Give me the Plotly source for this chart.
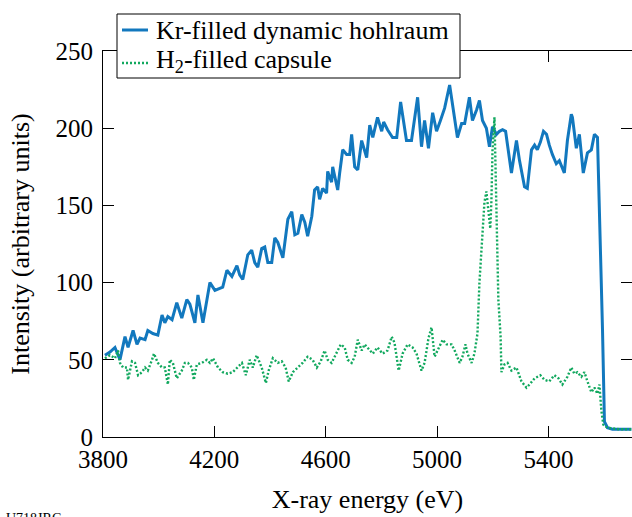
import plotly.graph_objects as go

# Kr-filled dynamic hohlraum (blue)
kr_energy = [3807, 3825, 3843, 3861, 3879, 3890, 3908, 3922, 3933, 3951, 3961, 3979, 3997,
             4012, 4022, 4033, 4048, 4065, 4083, 4101, 4112, 4130, 4141, 4159, 4184, 4202,
             4230, 4245, 4263, 4281, 4291, 4302, 4320, 4334, 4345, 4356, 4370, 4381, 4392,
             4406, 4417, 4428, 4446, 4464, 4478, 4489, 4500, 4514, 4525, 4535, 4550, 4560,
             4571, 4578, 4589, 4603, 4607, 4621, 4625, 4643, 4650, 4661, 4675, 4686, 4693,
             4704, 4715, 4729, 4747, 4758, 4769, 4786, 4801, 4808, 4822, 4840, 4855, 4869,
             4890, 4908, 4930, 4944, 4955, 4969, 4984, 4998, 5012, 5027, 5045, 5063, 5073,
             5088, 5099, 5116, 5127, 5142, 5152, 5163, 5177, 5188, 5199, 5213, 5224, 5235,
             5246, 5253, 5267, 5285, 5296, 5314, 5324, 5339, 5350, 5360, 5371, 5382, 5393,
             5403, 5414, 5428, 5439, 5457, 5468, 5482, 5486, 5500, 5511, 5525, 5540, 5554,
             5565, 5576, 5583, 5594, 5601, 5612, 5630, 5655, 5698]
kr_intensity = [53, 55, 58, 50, 65, 58, 69, 60, 64, 63, 69, 67, 66,
                79, 74, 78, 76, 87, 77, 89, 86, 74, 92, 74, 100, 95,
                97, 108, 104, 111, 105, 102, 118, 121, 113, 110, 122, 123, 113,
                113, 129, 126, 116, 141, 146, 131, 132, 144, 139, 130, 143, 160,
                162, 154, 161, 158, 172, 165, 175, 160, 171, 186, 183, 183, 196,
                175, 173, 192, 181, 202, 194, 207, 198, 204, 199, 194, 194, 217,
                192, 192, 220, 188, 205, 187, 210, 198, 205, 213, 228, 205, 194,
                203, 203, 220, 205, 212, 218, 205, 200, 188, 201, 196, 198, 199,
                198, 189, 171, 192, 179, 162, 161, 186, 189, 186, 191, 198, 196,
                189, 183, 177, 179, 171, 192, 209, 207, 187, 196, 171, 184, 186,
                196, 194, 150, 70, 10, 6, 5, 5, 5]

# H2-filled capsule (green, dotted)
h2_energy = [3807, 3825, 3843, 3854, 3861, 3872, 3886, 3890, 3904, 3915, 3926, 3940, 3951,
             3961, 3976, 3983, 3997, 4012, 4022, 4033, 4040, 4051, 4065, 4083, 4094, 4105,
             4119, 4126, 4137, 4155, 4173, 4184, 4195, 4213, 4230, 4248, 4266, 4281, 4299,
             4313, 4327, 4338, 4352, 4370, 4385, 4395, 4410, 4428, 4442, 4456, 4467, 4482,
             4500, 4517, 4535, 4553, 4568, 4582, 4596, 4607, 4621, 4639, 4654, 4668, 4679,
             4693, 4704, 4715, 4729, 4740, 4758, 4769, 4786, 4804, 4822, 4837, 4847, 4862,
             4876, 4894, 4912, 4926, 4944, 4955, 4969, 4980, 4991, 5002, 5020, 5034, 5052,
             5063, 5081, 5091, 5102, 5109, 5124, 5134, 5145, 5152, 5163, 5170, 5177, 5184,
             5191, 5195, 5199, 5206, 5210, 5213, 5220, 5228, 5231, 5242, 5253, 5267, 5285,
             5303, 5321, 5332, 5350, 5371, 5386, 5403, 5421, 5436, 5450, 5468, 5482, 5493,
             5504, 5518, 5529, 5540, 5554, 5565, 5576, 5583, 5590, 5597, 5612, 5655, 5698]
h2_intensity = [51, 53, 51, 56, 48, 45, 45, 37, 49, 48, 40, 42, 45,
                43, 50, 54, 48, 45, 45, 34, 50, 48, 38, 43, 48, 48,
                45, 37, 47, 48, 50, 48, 51, 45, 42, 41, 42, 45, 48,
                40, 50, 45, 53, 45, 35, 43, 51, 48, 49, 45, 36, 42,
                45, 48, 52, 50, 45, 49, 56, 50, 48, 55, 60, 58, 50,
                48, 52, 63, 56, 60, 56, 54, 58, 54, 56, 65, 61, 43,
                54, 60, 58, 54, 43, 48, 64, 71, 52, 56, 63, 60, 60,
                56, 48, 52, 60, 54, 48, 54, 67, 100, 132, 152, 159, 147,
                135, 153, 186, 207, 175, 132, 89, 65, 42, 47, 48, 43, 45,
                36, 32, 34, 38, 40, 37, 36, 40, 38, 34, 39, 45, 41,
                42, 39, 42, 36, 29, 32, 28, 34, 17, 8, 6, 5, 5]

series_names = ["Kr-filled dynamic hohlraum", "H<sub>2</sub>-filled capsule"]
x_ticks = [3800, 4200, 4600, 5000, 5400]
y_ticks = [0, 50, 100, 150, 200, 250]

BLUE = "#1278be"
GREEN = "#11a85e"
FONT = "'Times New Roman', 'Liberation Serif', 'DejaVu Serif', serif"

# plot-area geometry (pixels) used to place the legend box in paper coords
W, H = 632, 517
ML, MR, MT, MB = 103, 0, 51, 80
PW, PH = W - ML - MR, H - MT - MB


def px_x(p):
    return (p - ML) / PW


def px_y(p):
    return (H - MB - p) / PH


fig = go.Figure()
fig.add_trace(go.Scatter(x=kr_energy, y=kr_intensity, mode="lines",
                         name=series_names[0],
                         line=dict(color=BLUE, width=3)))
fig.add_trace(go.Scatter(x=h2_energy, y=h2_intensity, mode="lines",
                         name=series_names[1],
                         line=dict(color=GREEN, width=2.4, dash="2px,2px")))
# invisible trace to carry right-side ticks
fig.add_trace(go.Scatter(x=[3800], y=[0], yaxis="y2", mode="markers",
                         marker=dict(opacity=0), showlegend=False, hoverinfo="skip"))

shapes = [
    dict(type="rect", xref="paper", yref="paper", layer="above",
         x0=px_x(117), x1=px_x(460), y0=px_y(78), y1=px_y(14),
         fillcolor="white", line=dict(color="black", width=1)),
    dict(type="line", xref="paper", yref="paper", layer="above",
         x0=px_x(122), x1=px_x(148), y0=px_y(30), y1=px_y(30),
         line=dict(color=BLUE, width=3)),
    dict(type="line", xref="paper", yref="paper", layer="above",
         x0=px_x(122), x1=px_x(148), y0=px_y(63), y1=px_y(63),
         line=dict(color=GREEN, width=2.4, dash="2px,2px")),
]

annotations = [
    dict(text=series_names[0], x=px_x(154), y=px_y(30), xref="paper", yref="paper",
         xanchor="left", yanchor="middle", showarrow=False,
         font=dict(family=FONT, size=26, color="black")),
    dict(text=series_names[1], x=px_x(154), y=px_y(61), xref="paper", yref="paper",
         xanchor="left", yanchor="middle", showarrow=False,
         font=dict(family=FONT, size=26, color="black")),
    dict(text="U718JRC", x=px_x(4), y=px_y(509), xref="paper", yref="paper",
         xanchor="left", yanchor="top", showarrow=False,
         font=dict(family=FONT, size=14, color="black")),
]

fig.update_layout(
    width=W, height=H,
    margin=dict(l=ML, r=MR, t=MT, b=MB),
    paper_bgcolor="white", plot_bgcolor="white",
    font=dict(family=FONT, size=25, color="black"),
    showlegend=False,
    xaxis=dict(range=[3800, 5700], tickvals=x_ticks, ticks="inside", ticklen=11,
               tickwidth=1, tickcolor="black", showline=True, linecolor="black",
               linewidth=1, mirror="ticks", showgrid=False, zeroline=False,
               title=dict(text="X-ray energy (eV)", standoff=17,
                          font=dict(family=FONT, size=26)),
               tickfont=dict(family=FONT, size=25)),
    yaxis=dict(range=[0, 250], tickvals=y_ticks, ticks="inside", ticklen=11,
               tickwidth=1, tickcolor="black", showline=True, linecolor="black",
               linewidth=1, mirror=False, showgrid=False, zeroline=False,
               ticklabelstandoff=4,
               title=dict(text="Intensity (arbitrary units)", standoff=18,
                          font=dict(family=FONT, size=26)),
               tickfont=dict(family=FONT, size=25)),
    yaxis2=dict(range=[0, 250], tickvals=y_ticks, overlaying="y", side="right",
                ticks="inside", ticklen=11, tickcolor="black", showticklabels=False,
                showline=False, showgrid=False, zeroline=False),
    shapes=shapes,
    annotations=annotations,
)

fig.write_html("out.html")
